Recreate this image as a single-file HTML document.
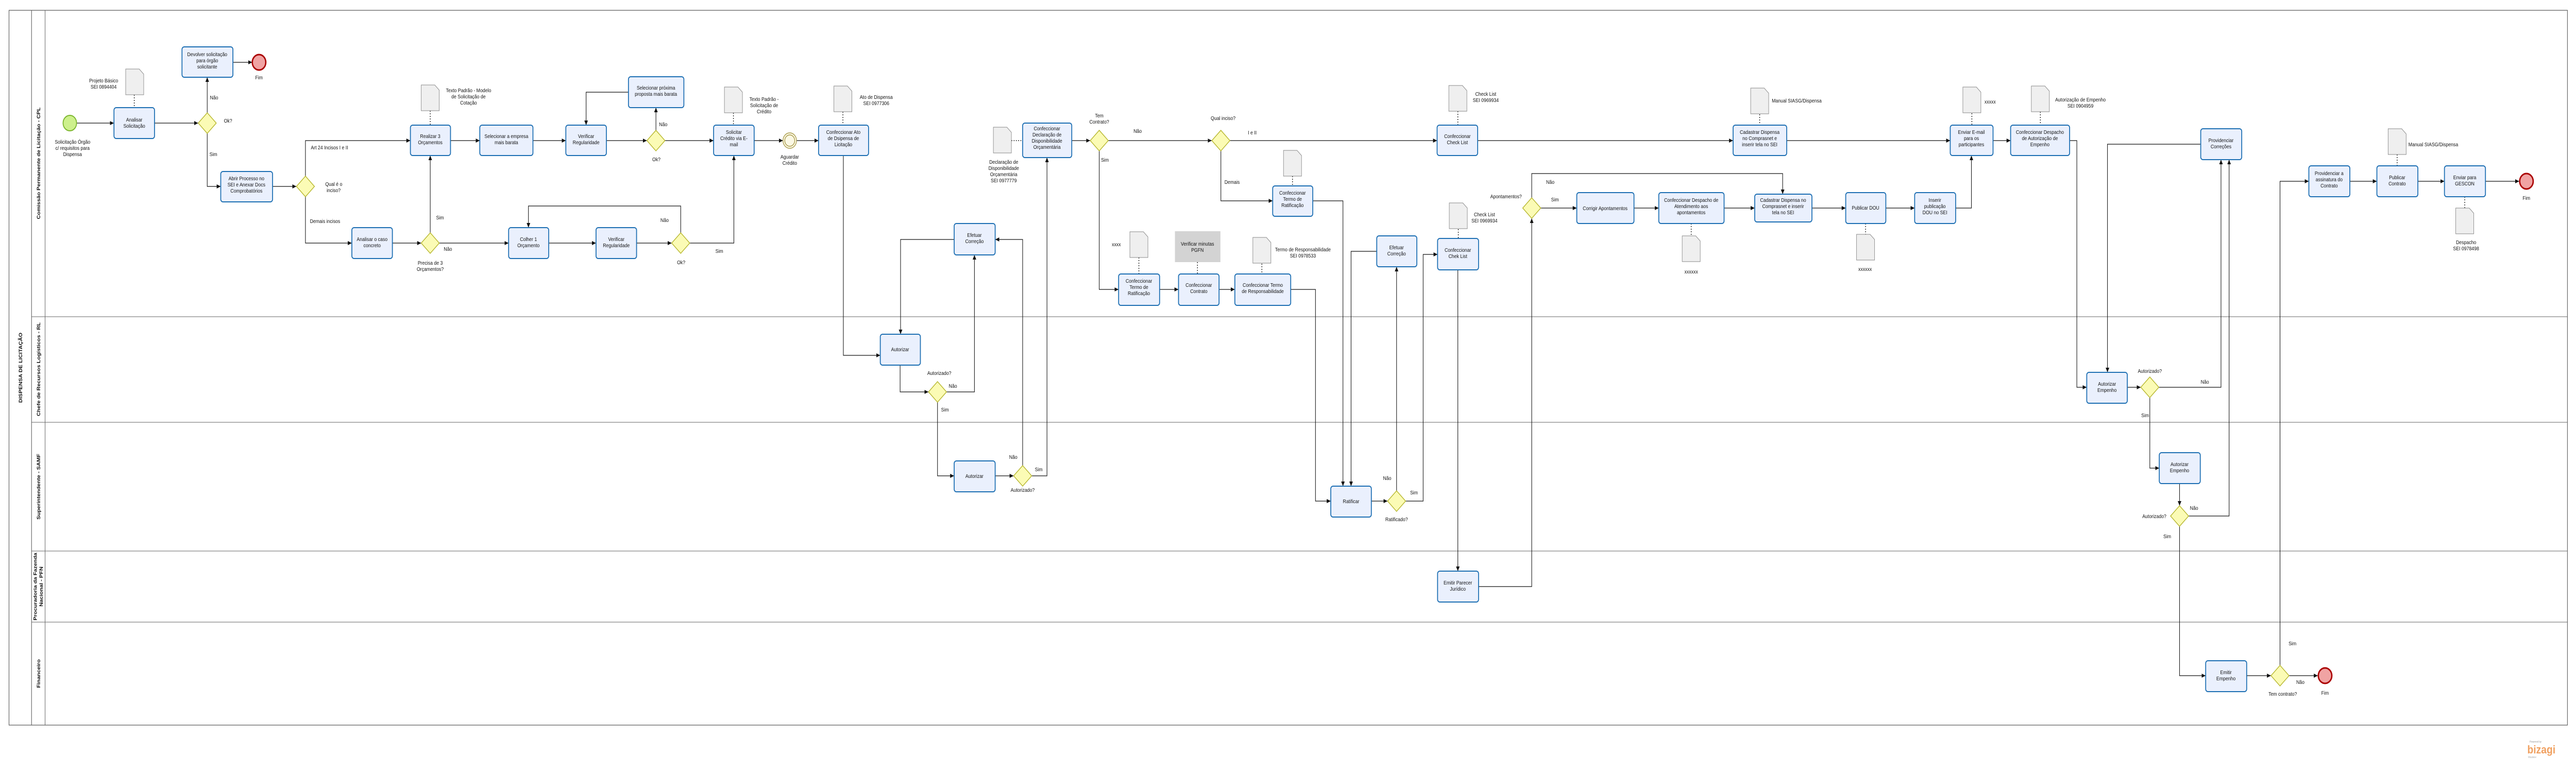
<!DOCTYPE html>
<html><head><meta charset="utf-8"><style>
html,body{margin:0;padding:0;background:#fff;width:100%;height:100%;overflow:hidden}
svg{display:block;width:100vw;height:100vh}
text{font-family:"Liberation Sans",sans-serif;font-size:10px;fill:#111}
.c{text-anchor:middle}
.ln{fill:none;stroke:#111;stroke-width:1.2}
.as{fill:none;stroke:#111;stroke-width:1.5;stroke-dasharray:2,3}
.tk{fill:#eaf0fd;stroke:#1d6fb3;stroke-width:2}
.gw{fill:#fbfbb5;stroke:#b5b52a;stroke-width:1.5}
.dc{fill:#efefef;stroke:#888;stroke-width:1}
.ll{font-family:"Liberation Sans Narrow","Liberation Sans",sans-serif;font-weight:bold;font-size:11px;text-anchor:middle}
</style></head><body>
<svg viewBox="0 0 5718 1501" preserveAspectRatio="none" xmlns="http://www.w3.org/2000/svg">
<defs>
<marker id="a" markerWidth="10" markerHeight="10" refX="9" refY="5" orient="auto" markerUnits="userSpaceOnUse"><path d="M0,1 L9,5 L0,9 z" fill="#111"/></marker>
</defs>
<rect x="0" y="0" width="5718" height="1501" fill="#fff"/>
<rect x="20" y="20" width="5679" height="1388" fill="none" stroke="#555" stroke-width="1.2"/>
<line x1="70" y1="20" x2="70" y2="1408" stroke="#555" stroke-width="1.2"/>
<line x1="100" y1="20" x2="100" y2="1408" stroke="#555" stroke-width="1"/>
<g stroke="#666" stroke-width="1">
<line x1="70" y1="615" x2="5699" y2="615"/><line x1="70" y1="820" x2="5699" y2="820"/>
<line x1="70" y1="1070" x2="5699" y2="1070"/><line x1="70" y1="1208" x2="5699" y2="1208"/>
</g>
<text class="ll" transform="translate(49,714) rotate(-90)">DISPENSA DE LICITAÇÃO</text>
<text class="ll" transform="translate(89,317) rotate(-90)">Comissão Permanente de Licitação - CPL</text>
<text class="ll" transform="translate(89,717) rotate(-90)">Chefe de Recursos Logísticos - RL</text>
<text class="ll" transform="translate(89,945) rotate(-90)">Superintendente - SAMF</text>
<text class="ll" transform="translate(82,1139) rotate(-90)">Procuradoria da Fazenda</text>
<text class="ll" transform="translate(95,1139) rotate(-90)">Nacional - PFN</text>
<text class="ll" transform="translate(89,1308) rotate(-90)">Financeiro</text>

<g class="ln" marker-end="url(#a)">
<polyline points="170,239 253,239"/>
<polyline points="343,239 440,239"/>
<polyline points="460,219 460,150"/>
<polyline points="517,121 560,121"/>
<polyline points="460,259 460,362 490,362"/>
<polyline points="605,362 658,362"/>
<polyline points="678,342 678,273 911,273"/>
<polyline points="678,382 678,472 781,472"/>
<polyline points="871,472 935,472"/>
<polyline points="955,452 955,302"/>
<polyline points="975,472 1129,472"/>
<polyline points="1000,273 1065,273"/>
<polyline points="1183,273 1256,273"/>
<polyline points="1346,273 1436,273"/>
<polyline points="1456,253 1456,209"/>
<polyline points="1395,179 1301,179 1301,243"/>
<polyline points="1476,273 1584,273"/>
<polyline points="1218,472 1323,472"/>
<polyline points="1413,472 1491,472"/>
<polyline points="1511,452 1511,400 1173,400 1173,442"/>
<polyline points="1531,472 1629,472 1629,302"/>
<polyline points="1674,273 1738,273"/>
<polyline points="1768,273 1817,273"/>
<polyline points="1872,302 1872,690 1954,690"/>
<polyline points="1998,709 1998,761 2061,761"/>
<polyline points="2101,761 2163,761 2163,495"/>
<polyline points="2118,465 1999,465 1999,649"/>
<polyline points="2081,781 2081,924 2118,924"/>
<polyline points="2209,924 2250,924"/>
<polyline points="2270,904 2270,465 2209,465"/>
<polyline points="2290,924 2324,924 2324,306"/>
<polyline points="2379,273 2420,273"/>
<polyline points="2460,273 2690,273"/>
<polyline points="2440,293 2440,562 2483,562"/>
<polyline points="2574,562 2616,562"/>
<polyline points="2706,562 2741,562"/>
<polyline points="2865,562 2920,562 2920,973 2954,973"/>
<polyline points="2730,273 3190,273"/>
<polyline points="2710,293 2710,390 2825,390"/>
<polyline points="2914,390 2981,390 2981,944"/>
<polyline points="3056,488 2999,488 2999,944"/>
<polyline points="3044,973 3080,973"/>
<polyline points="3100,953 3100,518"/>
<polyline points="3120,973 3159,973 3159,494 3191,494"/>
<polyline points="3236,524 3236,1109"/>
<polyline points="3282,1139 3400,1139 3400,424"/>
<polyline points="3420,404 3500,404"/>
<polyline points="3400,384 3400,337 3957,337 3957,377"/>
<polyline points="3627,404 3682,404"/>
<polyline points="3827,404 3895,404"/>
<polyline points="4022,404 4097,404"/>
<polyline points="4186,404 4250,404"/>
<polyline points="4341,404 4376,404 4376,302"/>
<polyline points="3280,273 3847,273"/>
<polyline points="3966,273 4329,273"/>
<polyline points="4424,273 4463,273"/>
<polyline points="4594,273 4610,273 4610,752 4632,752"/>
<polyline points="4722,752 4752,752"/>
<polyline points="4792,752 4930,752 4930,310"/>
<polyline points="4772,772 4772,909 4793,909"/>
<polyline points="4885,280 4678,280 4678,723"/>
<polyline points="4838,939 4838,982"/>
<polyline points="4858,1002 4948,1002 4948,310"/>
<polyline points="4838,1022 4838,1312 4896,1312"/>
<polyline points="4987,1312 5041,1312"/>
<polyline points="5081,1312 5145,1312"/>
<polyline points="5061,1292 5061,352 5125,352"/>
<polyline points="5216,352 5276,352"/>
<polyline points="5367,352 5426,352"/>
<polyline points="5517,352 5592,352"/>
</g>

<g class="as">
<line x1="298" y1="184" x2="298" y2="209"/>
<line x1="955" y1="215" x2="955" y2="243"/>
<line x1="1628" y1="219" x2="1628" y2="243"/>
<line x1="1871" y1="217" x2="1871" y2="243"/>
<line x1="2245" y1="273" x2="2270" y2="273"/>
<line x1="2528" y1="500" x2="2528" y2="532"/>
<line x1="2658" y1="509" x2="2658" y2="532"/>
<line x1="2801" y1="512" x2="2801" y2="532"/>
<line x1="2869" y1="342" x2="2869" y2="361"/>
<line x1="3236" y1="216" x2="3236" y2="243"/>
<line x1="3237" y1="445" x2="3237" y2="463"/>
<line x1="3754" y1="434" x2="3754" y2="458"/>
<line x1="4141" y1="434" x2="4141" y2="455"/>
<line x1="3906" y1="222" x2="3906" y2="243"/>
<line x1="4377" y1="220" x2="4377" y2="243"/>
<line x1="4529" y1="217" x2="4529" y2="243"/>
<line x1="5321" y1="300" x2="5321" y2="322"/>
<line x1="5471" y1="382" x2="5471" y2="404"/>
</g>

<g class="dc">
<path d="M279,134 h30 l10,10 v40 h-40 z"/>
<path d="M935,165 h30 l10,10 v40 h-40 z"/>
<path d="M1608,169 h30 l10,10 v40 h-40 z"/>
<path d="M1851,167 h30 l10,10 v40 h-40 z"/>
<path d="M2205,247 h30 l10,10 v40 h-40 z"/>
<path d="M2508,450 h30 l10,10 v40 h-40 z"/>
<path d="M2781,461 h30 l10,10 v40 h-40 z"/>
<path d="M2849,292 h30 l10,10 v40 h-40 z"/>
<path d="M3216,166 h30 l10,10 v40 h-40 z"/>
<path d="M3217,394 h30 l10,10 v40 h-40 z"/>
<path d="M3734,458 h30 l10,10 v40 h-40 z"/>
<path d="M4121,455 h30 l10,10 v40 h-40 z"/>
<path d="M3886,171 h30 l10,10 v40 h-40 z"/>
<path d="M4357,169 h30 l10,10 v40 h-40 z"/>
<path d="M4509,167 h30 l10,10 v40 h-40 z"/>
<path d="M5301,250 h30 l10,10 v40 h-40 z"/>
<path d="M5451,404 h30 l10,10 v40 h-40 z"/>
</g>

<rect x="2608" y="449" width="101" height="60" fill="#d3d3d3"/>
<text class="c" x="2658" y="477">Verificar minutas</text><text class="c" x="2658" y="489">PGFN</text>

<g class="tk">
<rect x="253" y="209" width="90" height="60" rx="5"/>
<rect x="404" y="91" width="113" height="59" rx="5"/>
<rect x="490" y="333" width="115" height="59" rx="5"/>
<rect x="781" y="442" width="90" height="60" rx="5"/>
<rect x="911" y="243" width="89" height="59" rx="5"/>
<rect x="1065" y="243" width="118" height="59" rx="5"/>
<rect x="1129" y="442" width="89" height="60" rx="5"/>
<rect x="1256" y="243" width="90" height="59" rx="5"/>
<rect x="1395" y="149" width="123" height="60" rx="5"/>
<rect x="1323" y="442" width="90" height="60" rx="5"/>
<rect x="1584" y="243" width="90" height="59" rx="5"/>
<rect x="1817" y="243" width="111" height="59" rx="5"/>
<rect x="1954" y="649" width="89" height="60" rx="5"/>
<rect x="2118" y="434" width="91" height="61" rx="5"/>
<rect x="2118" y="895" width="91" height="60" rx="5"/>
<rect x="2270" y="239" width="109" height="67" rx="5"/>
<rect x="2483" y="532" width="91" height="61" rx="5"/>
<rect x="2616" y="532" width="90" height="61" rx="5"/>
<rect x="2741" y="532" width="124" height="61" rx="5"/>
<rect x="2825" y="361" width="89" height="59" rx="5"/>
<rect x="2954" y="944" width="90" height="60" rx="5"/>
<rect x="3056" y="458" width="89" height="60" rx="5"/>
<rect x="3190" y="243" width="90" height="59" rx="5"/>
<rect x="3191" y="463" width="91" height="61" rx="5"/>
<rect x="3191" y="1109" width="91" height="60" rx="5"/>
<rect x="3500" y="374" width="127" height="60" rx="5"/>
<rect x="3682" y="374" width="145" height="60" rx="5"/>
<rect x="3895" y="377" width="127" height="54" rx="5"/>
<rect x="4097" y="374" width="89" height="60" rx="5"/>
<rect x="4250" y="374" width="91" height="60" rx="5"/>
<rect x="3847" y="243" width="119" height="59" rx="5"/>
<rect x="4329" y="243" width="95" height="59" rx="5"/>
<rect x="4463" y="243" width="131" height="59" rx="5"/>
<rect x="4632" y="723" width="90" height="60" rx="5"/>
<rect x="4885" y="250" width="91" height="60" rx="5"/>
<rect x="4793" y="879" width="91" height="60" rx="5"/>
<rect x="4896" y="1283" width="91" height="60" rx="5"/>
<rect x="5125" y="322" width="91" height="60" rx="5"/>
<rect x="5276" y="322" width="91" height="60" rx="5"/>
<rect x="5426" y="322" width="91" height="60" rx="5"/>
</g>
<g class="c">
<text x="298" y="236">Analisar</text><text x="298" y="248">Solicitação</text>
<text x="460" y="109">Devolver solicitação</text><text x="460" y="121">para órgão</text><text x="460" y="133">solicitante</text>
<text x="547" y="350">Abrir Processo no</text><text x="547" y="362">SEI e Anexar Docs</text><text x="547" y="374">Comprobatórios</text>
<text x="826" y="468">Analisar o caso</text><text x="826" y="480">concreto</text>
<text x="955" y="268">Realizar 3</text><text x="955" y="280">Orçamentos</text>
<text x="1124" y="268">Selecionar a empresa</text><text x="1124" y="280">mais barata</text>
<text x="1173" y="468">Colher 1</text><text x="1173" y="480">Orçamento</text>
<text x="1301" y="268">Verificar</text><text x="1301" y="280">Regularidade</text>
<text x="1456" y="174">Selecionar próxima</text><text x="1456" y="186">proposta mais barata</text>
<text x="1368" y="468">Verificar</text><text x="1368" y="480">Regularidade</text>
<text x="1629" y="260">Solicitar</text><text x="1629" y="272">Crédito  via E-</text><text x="1629" y="284">mail</text>
<text x="1872" y="260">Confeccionar Ato</text><text x="1872" y="272">de Dsipensa de</text><text x="1872" y="284">Licitação</text>
<text x="1998" y="682">Autorizar</text>
<text x="2163" y="460">Efetuar</text><text x="2163" y="472">Correção</text>
<text x="2163" y="928">Autorizar</text>
<text x="2324" y="253">Confeccionar</text><text x="2324" y="265">Declaração de</text><text x="2324" y="277">Disponibilidade</text><text x="2324" y="289">Orçamentária</text>
<text x="2528" y="549">Confeccionar</text><text x="2528" y="561">Termo de</text><text x="2528" y="573">Ratificação</text>
<text x="2661" y="557">Confeccionar</text><text x="2661" y="569">Contrato</text>
<text x="2803" y="557">Confeccionar Termo</text><text x="2803" y="569">de Responsabilidade</text>
<text x="2869" y="378">Confeccionar</text><text x="2869" y="390">Termo de</text><text x="2869" y="402">Ratificação</text>
<text x="2999" y="977">Ratificar</text>
<text x="3100" y="484">Efetuar</text><text x="3100" y="496">Correção</text>
<text x="3235" y="268">Confeccionar</text><text x="3235" y="280">Check List</text>
<text x="3236" y="489">Confeccionar</text><text x="3236" y="501">Chek List</text>
<text x="3236" y="1135">Emitir Parecer</text><text x="3236" y="1147">Jurídico</text>
<text x="3563" y="408">Corrigir Apontamentos</text>
<text x="3754" y="392">Confeccionar Despacho de</text><text x="3754" y="404">Atendimento aos</text><text x="3754" y="416">apontamentos</text>
<text x="3958" y="392">Cadastrar Dispensa no</text><text x="3958" y="404">Comprasnet e inserir</text><text x="3958" y="416">tela no SEI</text>
<text x="4141" y="407">Publicar DOU</text>
<text x="4295" y="392">Inserir</text><text x="4295" y="404">publicação</text><text x="4295" y="416">DOU no SEI</text>
<text x="3906" y="260">Cadastrar Dispensa</text><text x="3906" y="272">no Comprasnet e</text><text x="3906" y="284">inserir tela no SEI</text>
<text x="4376" y="260">Enviar E-mail</text><text x="4376" y="272">para os</text><text x="4376" y="284">participantes</text>
<text x="4528" y="260">Confeccionar Despacho</text><text x="4528" y="272">de Autorização de</text><text x="4528" y="284">Empenho</text>
<text x="4677" y="749">Autorizar</text><text x="4677" y="761">Empenho</text>
<text x="4930" y="276">Providenciar</text><text x="4930" y="288">Correções</text>
<text x="4838" y="905">Autorizar</text><text x="4838" y="917">Empenho</text>
<text x="4941" y="1309">Emitir</text><text x="4941" y="1321">Empenho</text>
<text x="5170" y="340">Providenciar a</text><text x="5170" y="352">assinatura do</text><text x="5170" y="364">Contrato</text>
<text x="5321" y="348">Publicar</text><text x="5321" y="360">Contrato</text>
<text x="5471" y="348">Enviar para</text><text x="5471" y="360">GESCON</text>
</g>

<g class="gw">
<polygon points="460,219 480,239 460,259 440,239"/>
<polygon points="678,342 698,362 678,382 658,362"/>
<polygon points="955,452 975,472 955,492 935,472"/>
<polygon points="1456,253 1476,273 1456,293 1436,273"/>
<polygon points="1511,452 1531,472 1511,492 1491,472"/>
<polygon points="2081,741 2101,761 2081,781 2061,761"/>
<polygon points="2270,904 2290,924 2270,944 2250,924"/>
<polygon points="2440,253 2460,273 2440,293 2420,273"/>
<polygon points="2710,253 2730,273 2710,293 2690,273"/>
<polygon points="3100,953 3120,973 3100,993 3080,973"/>
<polygon points="3400,384 3420,404 3400,424 3380,404"/>
<polygon points="4772,732 4792,752 4772,772 4752,752"/>
<polygon points="4838,982 4858,1002 4838,1022 4818,1002"/>
<polygon points="5061,1292 5081,1312 5061,1332 5041,1312"/>
</g>

<circle cx="155" cy="239" r="15" fill="#cdf08c" stroke="#7bb52d" stroke-width="2"/>
<circle cx="575" cy="121" r="15" fill="#f0a3a3" stroke="#a00" stroke-width="3"/>
<circle cx="1753" cy="273" r="15" fill="#fbf8e4" stroke="#a89a4a" stroke-width="1.5"/>
<circle cx="1753" cy="273" r="11" fill="none" stroke="#a89a4a" stroke-width="1.5"/>
<circle cx="5608" cy="352" r="15" fill="#f0a3a3" stroke="#a00" stroke-width="3"/>
<circle cx="5161" cy="1312" r="15" fill="#f0a3a3" stroke="#a00" stroke-width="3"/>

<g class="c">
<text x="161" y="279">Solicitação Órgão</text><text x="161" y="291">c/ requisitos para</text><text x="161" y="303">Dispensa</text>
<text x="230" y="160">Projeto Básico</text><text x="230" y="172">SEI 0894404</text>
<text x="575" y="154">Fim</text>
<text x="1040" y="179">Texto Padrão - Modelo</text><text x="1040" y="191">de Solicitação de</text><text x="1040" y="203">Cotação</text>
<text x="955" y="514">Precisa de 3</text><text x="955" y="526">Orçamentos?</text>
<text x="1457" y="313">Ok?</text>
<text x="1512" y="513">Ok?</text>
<text x="1696" y="196">Texto Padrão -</text><text x="1696" y="208">Solicitação de</text><text x="1696" y="220">Crédito</text>
<text x="1753" y="308">Aguardar</text><text x="1753" y="320">Crédito</text>
<text x="1945" y="192">Ato de Dispensa</text><text x="1945" y="204">SEI 0977306</text>
<text x="2228" y="318">Declaração de</text><text x="2228" y="330">Disponibilidade</text><text x="2228" y="342">Orçamentária</text><text x="2228" y="354">SEI 0977779</text>
<text x="2085" y="728">Autorizado?</text>
<text x="2270" y="955">Autorizado?</text>
<text x="2440" y="228">Tem</text><text x="2440" y="240">Contrato?</text>
<text x="2715" y="233">Qual inciso?</text>
<text x="2892" y="488">Termo de Responsabilidade</text><text x="2892" y="500">SEI 0978533</text>
<text x="3100" y="1012">Ratificado?</text>
<text x="3298" y="186">Check List</text><text x="3298" y="198">SEI 0969934</text>
<text x="3295" y="420">Check List</text><text x="3295" y="432">SEI 0969934</text>
<text x="3343" y="385">Apontamentos?</text>
<text x="3754" y="531">xxxxxx</text>
<text x="4140" y="526">xxxxxx</text>
<text x="4618" y="197">Autorização de Empenho</text><text x="4618" y="209">SEI 0904959</text>
<text x="4772" y="724">Autorizado?</text>
<text x="4782" y="1006">Autorizado?</text>
<text x="5067" y="1351">Tem contrato?</text>
<text x="5161" y="1349">Fim</text>
<text x="5474" y="474">Despacho</text><text x="5474" y="486">SEI 0978498</text>
<text x="5608" y="388">Fim</text>
</g>
<text x="497" y="238">Ok?</text>
<text x="722" y="361">Qual é o</text><text x="725" y="373">inciso?</text>
<text x="466" y="193">Não</text>
<text x="465" y="303">Sim</text>
<text x="690" y="290">Art 24 Incisos I e II</text>
<text x="688" y="433">Demais incisos</text>
<text x="968" y="426">Sim</text>
<text x="985" y="487">Não</text>
<text x="1463" y="245">Não</text>
<text x="1466" y="431">Não</text>
<text x="1588" y="491">Sim</text>
<text x="2106" y="753">Não</text>
<text x="2089" y="799">Sim</text>
<text x="2240" y="891">Não</text>
<text x="2297" y="915">Sim</text>
<text x="2516" y="258">Não</text>
<text x="2444" y="314">Sim</text>
<text x="2770" y="261">I e II</text>
<text x="2718" y="357">Demais</text>
<text x="2468" y="478">xxxx</text>
<text x="3070" y="932">Não</text>
<text x="3130" y="960">Sim</text>
<text x="3432" y="357">Não</text>
<text x="3443" y="391">Sim</text>
<text x="3933" y="199">Manual SIASG/Dispensa</text>
<text x="4405" y="201">xxxxx</text>
<text x="4885" y="745">Não</text>
<text x="4753" y="810">Sim</text>
<text x="4861" y="990">Não</text>
<text x="4802" y="1045">Sim</text>
<text x="5080" y="1253">Sim</text>
<text x="5097" y="1328">Não</text>
<text x="5346" y="284">Manual SIASG/Dispensa</text>
<text x="5615" y="1442" style="font-size:5px;fill:#999">Powered by</text>
<text x="5610" y="1463" style="font-size:22px;font-weight:bold;fill:#f0a060">bizagi</text>
<text x="5612" y="1472" style="font-size:5px;fill:#aaa">Modeler</text>
</svg>
</body></html>
